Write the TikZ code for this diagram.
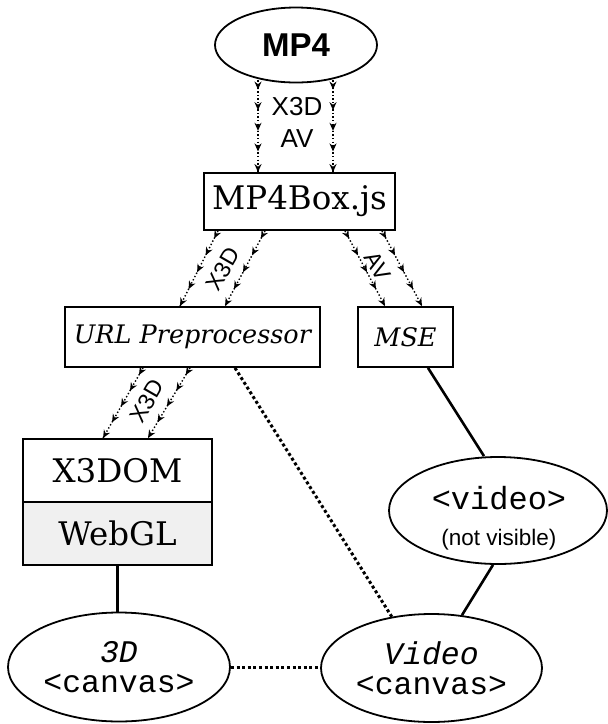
\documentclass[tikz,border=0pt]{standalone}
\usepackage{fontspec}
\setmainfont{Liberation Sans}
\newfontfamily\dvs{DejaVu Serif}
\newfontfamily\lmono{Liberation Mono}
\usetikzlibrary{shapes.geometric,arrows.meta,decorations.markings,calc}
\definecolor{webglgray}{HTML}{F0F0F0}
\tikzset{
  box/.style={draw, line width=1.8pt, inner sep=0pt},
  oval/.style={draw, ellipse, line width=1.8pt, inner sep=0pt},
  conn/.style={line width=2.6pt},
  dots/.style={line width=3pt, dash pattern=on 3pt off 2.6pt},
  flow/.style={line width=1.4pt, dash pattern=on 1.4pt off 2.2pt,
    postaction={decorate},
    decoration={markings,
      mark=at position 0.1 with {\arrow{Stealth[length=8pt,width=7pt]}},
      mark=at position 0.325 with {\arrow{Stealth[length=8pt,width=7pt]}},
      mark=at position 0.55 with {\arrow{Stealth[length=8pt,width=7pt]}},
      mark=at position 0.775 with {\arrow{Stealth[length=8pt,width=7pt]}},
      mark=at position 1 with {\arrow{Stealth[length=8pt,width=7pt]}}}},
  lbl/.style={font=\fontsize{26}{26}\selectfont, inner sep=0pt},
  rlbl/.style={font=\fontsize{23}{23}\selectfont, inner sep=0pt},
  serifbig/.style={font=\dvs\fontsize{32.5}{32}\selectfont},
  serifit/.style={font=\dvs\itshape\fontsize{25.5}{25}\selectfont},
  monotxt/.style={font=\lmono\fontsize{31.5}{30}\selectfont, align=center}
}
\begin{document}
\begin{tikzpicture}[x=1pt,y=-1pt]
\useasboundingbox[fill=white] (0,0) rectangle (608,724);

\node[oval, minimum width=162pt, minimum height=75pt, font=\fontsize{33}{33}\selectfont\bfseries] (mp4) at (296,45) {MP4};
\node[box, minimum width=191pt, minimum height=57pt, serifbig] (mp4box) at (299.5,201.5) {MP4Box.js};
\node[box, minimum width=255pt, minimum height=60pt, serifit] (url) at (192.5,337) {URL Preprocessor};
\node[box, minimum width=95pt, minimum height=60pt, serifit] (mse) at (405.5,337) {MSE};
\node[box, minimum width=189pt, minimum height=63pt, serifbig] (x3dom) at (117.5,470.5) {X3DOM};
\node[box, fill=webglgray, minimum width=189pt, minimum height=63pt, serifbig] (webgl) at (117.5,533.5) {WebGL};
\node[oval, minimum width=222pt, minimum height=109pt, monotxt] (c3d) at (119,667) {{\itshape 3D}\\<canvas>};
\node[oval, minimum width=221pt, minimum height=108pt, monotxt] (vcan) at (431.5,668) {{\itshape Video}\\<canvas>};
\node[oval, minimum width=218pt, minimum height=107pt] (video) at (498,510.5) {};
\node[font=\lmono\fontsize{32}{32}\selectfont, inner sep=0pt] (videotxt) at (499,498) {<video>};
\node[font=\fontsize{22.5}{22}\selectfont, inner sep=0pt] (nv) at (499,540) {(not visible)};

% labels
\node[lbl] (lx3d) at (297,107) {X3D};
\node[lbl] (lav) at (297,138.5) {AV};
\node[rlbl, rotate=60] (lx3db) at (223,269) {X3D};
\node[rlbl, rotate=-60] (lavb) at (378,266) {AV};
\node[rlbl, rotate=60] (lx3dc) at (147,401) {X3D};

% flow arrows
\draw[flow] ([xshift=-38pt,yshift=3pt]mp4.south) -- ([xshift=-41.5pt]mp4box.north);
\draw[flow] ([xshift=37pt,yshift=3pt]mp4.south) -- ([xshift=33.5pt]mp4box.north);
\draw[flow] ([xshift=-81.5pt]mp4box.south) -- ([xshift=-12.5pt]url.north);
\draw[flow] ([xshift=-34.5pt]mp4box.south) -- ([xshift=32.5pt]url.north);
\draw[flow] ([xshift=45.5pt]mp4box.south) -- ([xshift=-20.5pt]mse.north);
\draw[flow] ([xshift=82.5pt]mp4box.south) -- ([xshift=16.5pt]mse.north);
\draw[flow] ([xshift=-49.5pt]url.south) -- ([xshift=-14.5pt]x3dom.north);
\draw[flow] ([xshift=-2.5pt]url.south) -- ([xshift=30.5pt]x3dom.north);

% solid connectors
\draw[conn] (webgl.south) -- (webgl.south |- c3d.north);
\draw[conn] ([xshift=22.5pt]mse.south) -- ([xshift=-14pt]video.north);
\draw[conn] ([xshift=-5pt]video.south) -- ([xshift=30.5pt,yshift=-2pt]vcan.north);

% dotted connectors
\draw[dots] ([xshift=42.5pt]url.south) -- ([xshift=-39.5pt,yshift=-4pt]vcan.north);
\draw[dots] (c3d.east) -- (c3d.east -| vcan.west);
\end{tikzpicture}
\end{document}
